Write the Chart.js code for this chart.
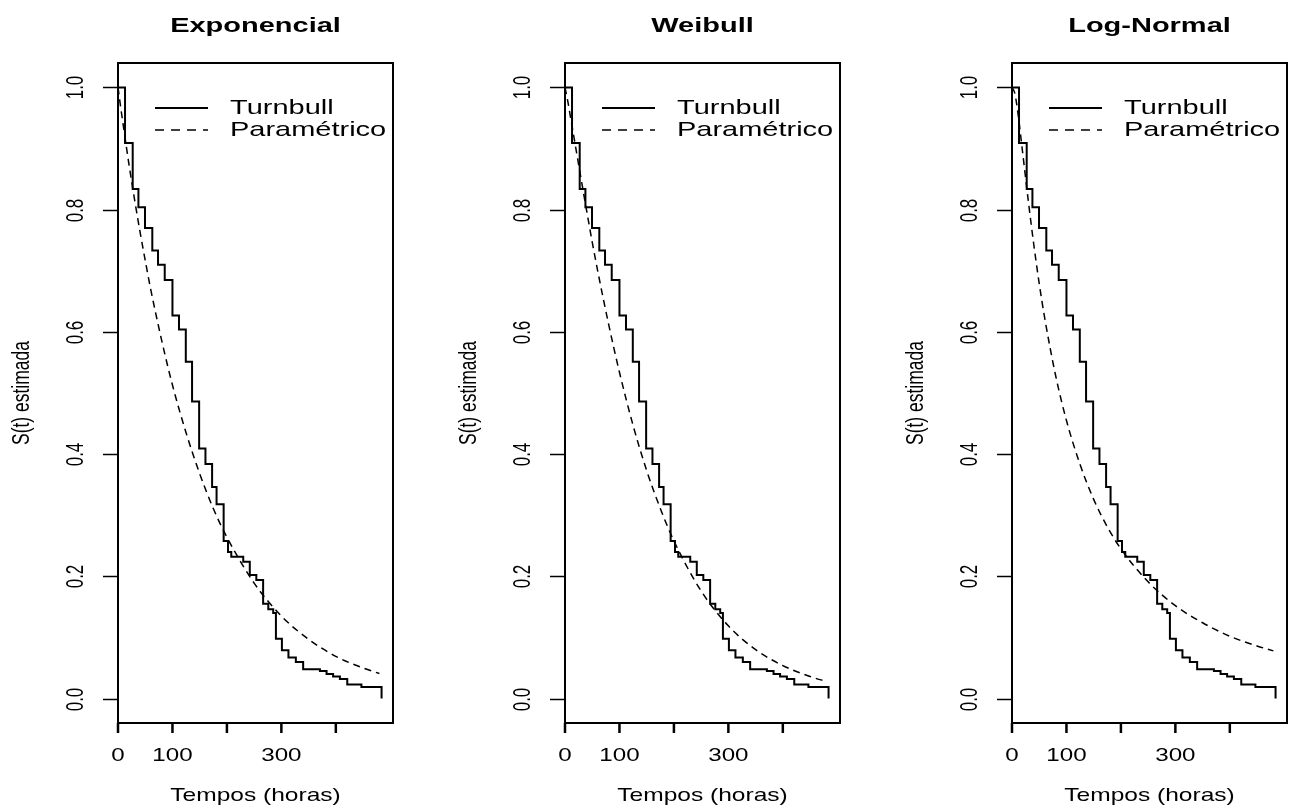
<!DOCTYPE html>
<html>
<head>
<meta charset="utf-8">
<script src="https://cdn.jsdelivr.net/npm/chart.js@4/dist/chart.umd.min.js"></script>
<style>
  html, body { margin: 0; padding: 0; background: #fff; overflow: hidden; }
  canvas { position: absolute; top: 0; }
</style>
</head>
<body>
<canvas id="c1" width="395" height="808" style="left:0px"></canvas>
<canvas id="c2" width="395" height="808" style="left:447px"></canvas>
<canvas id="c3" width="395" height="808" style="left:894px"></canvas>
<script>
// data

// Turnbull estimate (step), same in the 3 panels
const turnbullTimes = [0, 12.9, 27, 37.5, 49.6, 63, 73.5, 85.8, 100, 112, 124.5, 136, 149, 160.6, 172.8, 181, 194, 202, 208, 230, 242, 254, 266.5, 276, 285, 290, 301, 313, 326.6, 340, 370.8, 383, 395, 407.5, 421, 447, 484];
const turnbullSurv  = [1.0, 0.909, 0.834, 0.804, 0.770, 0.733, 0.710, 0.685, 0.627, 0.604, 0.551, 0.486, 0.409, 0.384, 0.346, 0.318, 0.258, 0.240, 0.232, 0.224, 0.202, 0.194, 0.155, 0.146, 0.140, 0.098, 0.079, 0.067, 0.060, 0.048, 0.045, 0.040, 0.036, 0.032, 0.023, 0.019, 0.0];

// parametric fits (dashed)
const curveTimes  = [0, 5, 10, 20, 30, 40, 50, 60, 80, 100, 125, 150, 175, 200, 250, 300, 350, 400, 450, 480];
const expSurv     = [1.0, 0.967, 0.936, 0.875, 0.819, 0.766, 0.717, 0.670, 0.587, 0.513, 0.435, 0.368, 0.311, 0.264, 0.189, 0.135, 0.097, 0.069, 0.050, 0.041];
const weibullSurv = [1.0, 0.978, 0.952, 0.900, 0.848, 0.797, 0.747, 0.700, 0.613, 0.534, 0.447, 0.373, 0.311, 0.258, 0.176, 0.119, 0.080, 0.054, 0.036, 0.028];
const lognormSurv = [1.0, 0.991, 0.964, 0.890, 0.814, 0.743, 0.679, 0.623, 0.529, 0.455, 0.383, 0.326, 0.281, 0.245, 0.191, 0.152, 0.124, 0.102, 0.086, 0.078];

const panelTitles = ['Exponencial', 'Weibull', 'Log-Normal'];
const panelSurv = [expSurv, weibullSurv, lognormSurv];
const legendLabels = ['Turnbull', 'Paramétrico'];
const xTicks = [0, 100, 200, 300, 400];
const xTickLabels = ['0', '100', '', '300', ''];
const yTicks = [0, 0.2, 0.4, 0.6, 0.8, 1.0];
const yTickLabels = ['0.0', '0.2', '0.4', '0.6', '0.8', '1.0'];
const xTitle = 'Tempos (horas)';
const yTitle = 'S(t) estimada';

// the original picture is stretched sideways
const SX = 1.38;
const FONT = '"Liberation Sans", Arial, sans-serif';

function wideText(ctx, txt, x, y, font, align, rot) {
  ctx.save();
  ctx.translate(x, y);
  ctx.scale(SX, 1);
  if (rot) ctx.rotate(rot);
  ctx.font = font;
  ctx.textAlign = align;
  ctx.textBaseline = 'middle';
  ctx.fillStyle = '#000';
  ctx.fillText(txt, 0, 0);
  ctx.restore();
}

// R style frame: box, axes, labels, title, legend
const rFrame = {
  id: 'rFrame',
  afterDraw(chart, args, opts) {
    const ctx = chart.ctx;
    const a = chart.chartArea;
    const xs = chart.scales.x, ys = chart.scales.y;
    ctx.save();
    ctx.strokeStyle = '#000';
    ctx.lineWidth = 2;
    ctx.strokeRect(a.left, a.top, a.right - a.left, a.bottom - a.top);

    // y axis
    ctx.lineWidth = 1.5;
    yTicks.forEach(function(v, i) {
      const py = Math.round(ys.getPixelForValue(v)) + 0.5;
      ctx.beginPath();
      ctx.moveTo(a.left - 15, py);
      ctx.lineTo(a.left, py);
      ctx.stroke();
      wideText(ctx, yTickLabels[i], a.left - 41, py, '17px ' + FONT, 'center', -Math.PI / 2);
    });

    // x axis
    ctx.lineWidth = 2.5;
    xTicks.forEach(function(v, i) {
      const px = xs.getPixelForValue(v);
      ctx.beginPath();
      ctx.moveTo(px, a.bottom);
      ctx.lineTo(px, a.bottom + 10);
      ctx.stroke();
      if (xTickLabels[i]) {
        wideText(ctx, xTickLabels[i], px, a.bottom + 33, '17.5px ' + FONT, 'center');
      }
    });

    const cx = (a.left + a.right) / 2;
    wideText(ctx, xTitle, cx, a.bottom + 73, '17.8px ' + FONT, 'center');
    wideText(ctx, yTitle, a.left - 96, (a.top + a.bottom) / 2, '17.5px ' + FONT, 'center', -Math.PI / 2);
    wideText(ctx, opts.title, cx, 26, 'bold 21px ' + FONT, 'center');

    // legend
    const lx = a.left + 37, ly = a.top + 45;
    ctx.lineWidth = 2;
    ctx.beginPath();
    ctx.moveTo(lx, ly);
    ctx.lineTo(lx + 53, ly);
    ctx.stroke();
    ctx.lineWidth = 1.5;
    ctx.setLineDash([9, 7]);
    ctx.beginPath();
    ctx.moveTo(lx, ly + 22);
    ctx.lineTo(lx + 53, ly + 22);
    ctx.stroke();
    ctx.setLineDash([]);
    wideText(ctx, legendLabels[0], lx + 75, ly, '21px ' + FONT, 'left');
    wideText(ctx, legendLabels[1], lx + 75, ly + 22, '21px ' + FONT, 'left');
    ctx.restore();
  }
};

function makePanel(id, k) {
  const stepPts = turnbullTimes.map(function(t, i) { return {x: t, y: turnbullSurv[i]}; });
  const fitPts = curveTimes.map(function(t, i) { return {x: t, y: panelSurv[k][i]}; });
  return new Chart(document.getElementById(id).getContext('2d'), {
    type: 'line',
    data: {
      datasets: [{
        label: legendLabels[0],
        data: stepPts,
        stepped: 'before',
        borderColor: '#000',
        borderWidth: 2,
        pointRadius: 0,
        fill: false
      }, {
        label: legendLabels[1],
        data: fitPts,
        borderColor: '#000',
        borderWidth: 1.5,
        borderDash: [7, 5],
        cubicInterpolationMode: 'monotone',
        pointRadius: 0,
        fill: false
      }]
    },
    options: {
      responsive: false,
      animation: false,
      layout: { padding: { left: 118, right: 2, top: 63, bottom: 85 } },
      scales: {
        x: { type: 'linear', min: 0, max: 505, display: false },
        y: { type: 'linear', min: -0.04, max: 1.04, display: false }
      },
      plugins: {
        legend: { display: false },
        tooltip: { enabled: false },
        rFrame: { title: panelTitles[k] }
      }
    },
    plugins: [rFrame]
  });
}

makePanel('c1', 0);
makePanel('c2', 1);
makePanel('c3', 2);
</script>
</body>
</html>
